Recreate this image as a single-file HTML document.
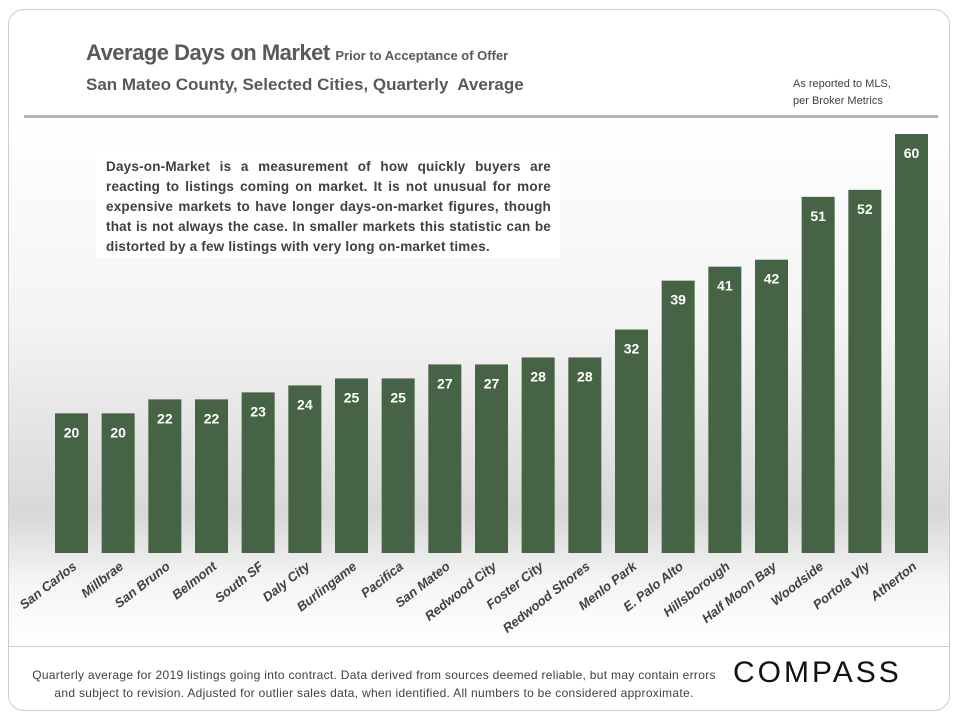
<!DOCTYPE html>
<html><head><meta charset="utf-8"><style>
body{margin:0;width:960px;height:720px;background:#fff;font-family:"Liberation Sans",sans-serif;overflow:hidden;position:relative}
.frame{position:absolute;left:8px;top:9px;width:942px;height:702px;border:1px solid #ccc;border-radius:16px;box-sizing:border-box}
.bg{position:absolute;left:9px;top:118px;width:940px;height:528px;background:linear-gradient(#fff 0%,#f3f3f3 40%,#d8d8d8 75%,#f5f5f5 88%,#fff 100%)}
.t1{position:absolute;left:86px;top:40px;font-size:22px;font-weight:bold;color:#595959;letter-spacing:-0.5px}
.t1 span{font-size:13px;letter-spacing:0}
.t2{position:absolute;left:86px;top:75px;font-size:17px;font-weight:bold;color:#595959}
.src{position:absolute;left:793px;top:76px;font-size:11px;line-height:17px;color:#404040}
.sep{position:absolute;left:24px;top:115px;width:914px;height:3px;background:#b3b3b3}
.fsep{position:absolute;left:9px;top:646px;width:940px;height:1px;background:#ccc}
.note{position:absolute;left:96px;top:150px;width:464px;height:108px;background:#fff;box-sizing:border-box;padding:7px 9px 7px 10px;font-size:13.5px;letter-spacing:0.2px;font-weight:bold;color:#404040;line-height:20px;white-space:nowrap}
.note .j{text-align:justify;text-align-last:justify;white-space:normal}
.foot{position:absolute;left:14px;top:666px;width:720px;font-size:12px;letter-spacing:0.3px;color:#404040;text-align:center;line-height:18px;white-space:nowrap}
.logo{position:absolute;left:733px;top:656px;font-size:30px;letter-spacing:3px;color:#111}
svg{position:absolute;left:0;top:0}
</style></head><body>
<div class="bg"></div>
<div class="frame"></div>
<div class="t1">Average Days on Market <span>Prior to Acceptance of Offer</span></div>
<div class="t2">San Mateo County, Selected Cities, Quarterly&nbsp; Average</div>
<div class="src">As reported to MLS,<br>per Broker Metrics</div>
<div class="sep"></div>
<div class="note"><div class="j">Days-on-Market is a measurement of how quickly buyers are</div><div class="j">reacting to listings coming on market. It is not unusual for more</div><div class="j">expensive markets to have longer days-on-market figures, though</div><div class="j">that is not always the case. In smaller markets this statistic can be</div><div>distorted by a few listings with very long on-market times.</div></div>
<svg id="chart" width="960" height="720"></svg>
<div class="fsep"></div>
<div class="foot">Quarterly average for 2019 listings going into contract. Data derived from sources deemed reliable, but may contain errors<br>and subject to revision. Adjusted for outlier sales data, when identified. All numbers to be considered approximate.</div>
<div class="logo">COMPASS</div>
<script>
const categories=["San Carlos","Millbrae","San Bruno","Belmont","South SF","Daly City","Burlingame","Pacifica","San Mateo","Redwood City","Foster City","Redwood Shores","Menlo Park","E. Palo Alto","Hillsborough","Half Moon Bay","Woodside","Portola Vly","Atherton"];
const values=[20,20,22,22,23,24,25,25,27,27,28,28,32,39,41,42,51,52,60];
const svg=document.getElementById('chart');
const NS='http://www.w3.org/2000/svg';
const baseY=553, unit=419/60, x0=55, step=(895-55)/18, bw=33;
function xS(i){return x0+i*step;}
function yS(v){return baseY-v*unit;}
values.forEach((v,i)=>{
  const r=document.createElementNS(NS,'rect');
  r.setAttribute('x',xS(i));r.setAttribute('y',yS(v));
  r.setAttribute('width',bw);r.setAttribute('height',baseY-yS(v));
  r.setAttribute('fill','#466346');
  
  
  svg.appendChild(r);
  const t=document.createElementNS(NS,'text');
  t.setAttribute('x',xS(i)+bw/2);t.setAttribute('y',yS(v)+24);
  t.setAttribute('text-anchor','middle');t.setAttribute('fill','#fff');
  t.setAttribute('font-size','14');t.setAttribute('font-weight','bold');
  t.setAttribute('font-family','Liberation Sans, sans-serif');
  t.textContent=v;
  
  
  svg.appendChild(t);
  const c=xS(i)+bw/2+6, ly=568;
  const l=document.createElementNS(NS,'text');
  l.setAttribute('x',c);l.setAttribute('y',ly);
  l.setAttribute('text-anchor','end');l.setAttribute('fill','#404040');
  l.setAttribute('font-size','13');l.setAttribute('font-style','italic');l.setAttribute('font-weight','bold');
  l.setAttribute('font-family','Liberation Sans Narrow, Liberation Sans, sans-serif');
  l.setAttribute('transform','rotate(-38 '+c+' '+ly+')');
  l.textContent=categories[i];
  
  
  svg.appendChild(l);
});
</script>
</body></html>
